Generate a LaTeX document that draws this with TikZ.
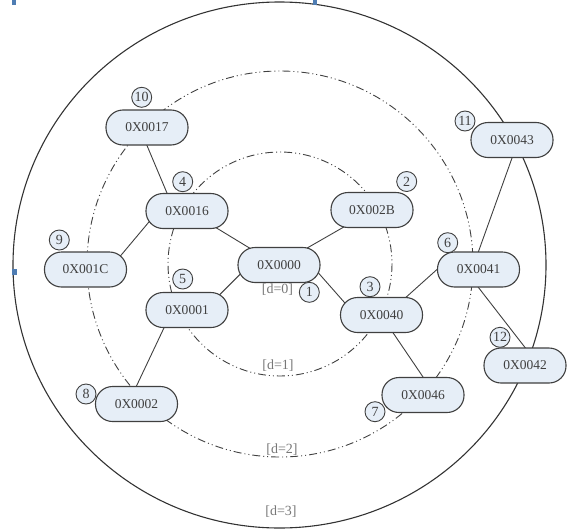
\documentclass[tikz,border=0pt]{standalone}
\usepackage{fontspec}
\setmainfont{Liberation Serif}
\usetikzlibrary{backgrounds}
\definecolor{boxfill}{HTML}{E6EEF7}
\definecolor{boxline}{HTML}{404040}
\definecolor{ringline}{HTML}{404040}
\definecolor{lbl}{HTML}{777777}
\definecolor{marker}{HTML}{4F7DB3}
\begin{document}
\begin{tikzpicture}[x=1pt,y=-1pt,
  addr/.style={draw=boxline, line width=1.1pt, fill=boxfill, rounded corners=17pt,
    minimum width=82pt, minimum height=35pt, inner sep=0pt,
    font=\fontsize{13.5}{13.5}\selectfont, text=black!75},
  num/.style={circle, draw=boxline, line width=0.9pt, fill=boxfill, minimum size=20pt,
    inner sep=0pt, font=\fontsize{14}{14}\selectfont, text=black!75},
  link/.style={draw=boxline, line width=0.9pt, shorten <=-8pt, shorten >=-8pt},
  ring/.style={draw=ringline, line width=0.9pt,
    dash pattern=on 8pt off 3pt on 1pt off 3pt on 1pt off 3pt},
  depth/.style={text=lbl, font=\fontsize{14}{14}\selectfont, inner sep=0pt}]
\useasboundingbox (0,0) rectangle (575,530);

% outer boundary and the two depth rings
\draw[draw=black!80, line width=1.1pt] (279.5,265) ellipse [x radius=266.5, y radius=263];
\draw[ring] (280,264) circle [radius=193];
\draw[ring] (280,264) circle [radius=112];

% small blue markers
\fill[marker] (12,0) rectangle (16,4.5);
\fill[marker] (313,0) rectangle (317,4.5);
\fill[marker] (11.5,269) rectangle (16.5,275);

% address nodes
\node[addr] (n0000) at (279,265)   {0X0000};
\node[addr] (n002B) at (372,210)   {0X002B};
\node[addr] (n0040) at (381.5,315) {0X0040};
\node[addr] (n0016) at (187,211)   {0X0016};
\node[addr] (n0001) at (187,310)   {0X0001};
\node[addr] (n0041) at (478.5,269.5) {0X0041};
\node[addr] (n0046) at (423,395)   {0X0046};
\node[addr] (n0002) at (136.5,404) {0X0002};
\node[addr] (n001C) at (85.5,269.5) {0X001C};
\node[addr] (n0017) at (147,127.5) {0X0017};
\node[addr] (n0043) at (512,140)   {0X0043};
\node[addr] (n0042) at (525,365.5) {0X0042};

% visiting order
\node[num] (o1)  at (309.3,292.3) {1};
\node[num] (o2)  at (406.7,181.5) {2};
\node[num] (o3)  at (370,286.7)   {3};
\node[num] (o4)  at (182.7,181.7) {4};
\node[num] (o5)  at (182.7,279)   {5};
\node[num] (o6)  at (447.7,242.7) {6};
\node[num] (o7)  at (375,411.7)   {7};
\node[num] (o8)  at (86,394)      {8};
\node[num] (o9)  at (59.3,240)    {9};
\node[num] (o10) at (141.7,97.3)  {10};
\node[num] (o11) at (465,121)     {11};
\node[num] (o12) at (500,337.3)   {12};

% depth labels
\node[depth] (d0) at (277.5,290) {[d=0]};
\node[depth] (d1) at (278,366)   {[d=1]};
\node[depth] (d2) at (282,450)   {[d=2]};
\node[depth] (d3) at (281,512)   {[d=3]};

% links, kept behind the nodes
\begin{scope}[on background layer]
\draw[link] (n0017.south) -- (n0016.138);
\draw[link] (n0016.200)   -- (n001C.25);
\draw[link] (n0016.-30)   -- (n0000.150);
\draw[link] (n0000.31)    -- (n002B.211);
\draw[link] (n0000.196)   -- (n0001.27);
\draw[link] (n0000.-14)   -- (n0040.157);
\draw[link] (n0001.218)   -- (n0002.north);
\draw[link] (n0040.36)    -- (n0041.west);
\draw[link] (n0040.-57)   -- (n0046.north);
\draw[link] (n0041.north) -- (n0043.south);
\draw[link] (n0041.south) -- (n0042.north);
\end{scope}
\end{tikzpicture}
\end{document}
